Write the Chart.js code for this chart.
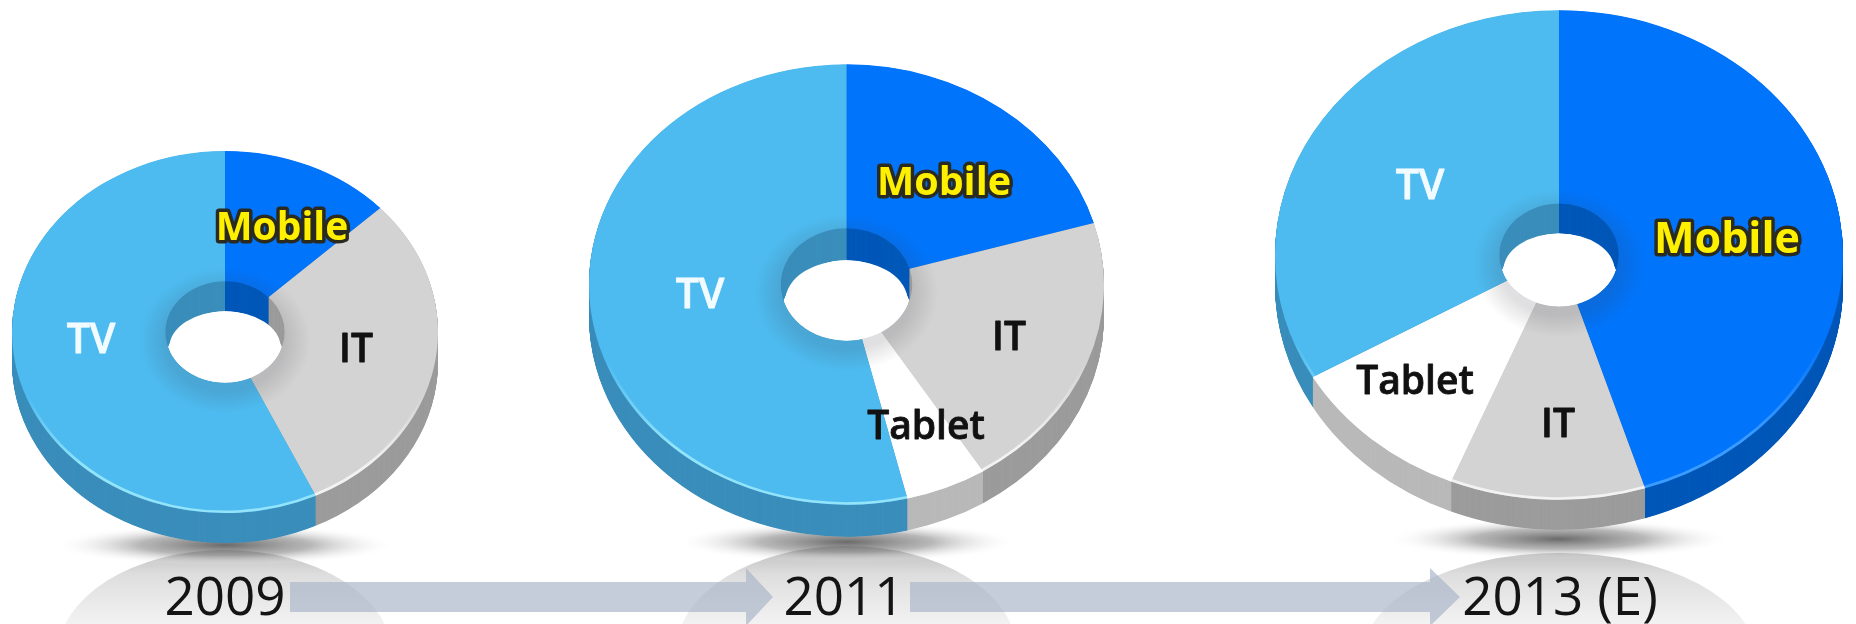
<!DOCTYPE html>
<html>
<head>
<meta charset="utf-8">
<style>
  html, body { margin: 0; padding: 0; background: #fff; overflow: hidden; }
  #stage { position: relative; width: 1856px; height: 624px; overflow: hidden; filter: blur(0.6px); }
  canvas { position: absolute; }
</style>
<script src="https://cdn.jsdelivr.net/npm/chart.js@4"></script>
</head>
<body>
<div id="stage"><canvas id="backdrop" width="1856" height="624" style="left:0;top:0"></canvas></div>
<script>
const categories = ['Mobile', 'IT', 'Tablet', 'TV'];
const years = ['2009', '2011', '2013 (E)'];
const values2009 = [13, 30, 0, 57];
const values2011 = [20.5, 20.6, 5.1, 53.8];
const values2013 = [45.1, 11.1, 10.5, 33.3];

const faceColors = ['#0074FB', '#D3D3D3', '#FFFFFF', '#4DBBF0'];
const sideColors = ['#0058B8', '#9C9C9C', '#B9B9B9', '#3B8EBB'];
const rimColors = ['#3C9BFF', '#F2F2F2', '#FFFFFF', '#93E4FA'];

// geometry of each disc
const pies = [
  { values: values2009, cx: 225, cy: 331.5, rx: 213, squash: 0.85, depth: 30, cutout: '28%',
    labels: { Mobile: [282, 228], IT: [356, 350], TV: [91, 341] }, mobileSize: 39,
    year: [225, 600], shadowY: 545, dome: [167, 655, 105] },
  { values: values2011, cx: 846.5, cy: 284, rx: 257.5, squash: 0.855, depth: 32, cutout: '25.5%',
    labels: { Mobile: [944, 183], IT: [1009, 338], Tablet: [926, 427], TV: [700, 296] }, mobileSize: 39.5,
    year: [844, 600], shadowY: 542, dome: [170, 651, 105] },
  { values: values2013, cx: 1559, cy: 254.5, rx: 284, squash: 0.862, depth: 30, cutout: '21%',
    labels: { Mobile: [1727, 240], IT: [1558, 425], Tablet: [1415, 382], TV: [1420, 187] }, mobileSize: 43,
    year: [1560, 600], shadowY: 539, dome: [197, 658, 105] }
];

const labelFont = "'Open Sans', sans-serif";
const pad = 4;

function drawBackdrop() {
  const ctx = document.getElementById('backdrop').getContext('2d');

  pies.forEach(function (p) {
    // reflection under the disc
    const dome = ctx.createLinearGradient(0, 548, 0, 624);
    dome.addColorStop(0, 'rgba(185,185,185,0.95)');
    dome.addColorStop(0.35, 'rgba(218,218,218,0.9)');
    dome.addColorStop(1, 'rgba(240,240,240,0.85)');
    ctx.fillStyle = dome;
    ctx.beginPath();
    ctx.ellipse(p.cx, p.dome[1], p.dome[0], p.dome[2], 0, 0, Math.PI * 2);
    ctx.fill();

    // ground shadow
    ctx.save();
    ctx.translate(p.cx, p.shadowY);
    ctx.scale(1, 0.12);
    const sh = ctx.createRadialGradient(0, 0, 0, 0, 0, 172);
    sh.addColorStop(0, 'rgba(90,90,90,0.9)');
    sh.addColorStop(0.5, 'rgba(125,125,125,0.55)');
    sh.addColorStop(1, 'rgba(255,255,255,0)');
    ctx.fillStyle = sh;
    ctx.beginPath();
    ctx.arc(0, 0, 172, 0, Math.PI * 2);
    ctx.fill();
    ctx.restore();
  });

  // arrows between the years
  ctx.fillStyle = 'rgba(170,182,200,0.68)';
  [[290, 746, 773], [910, 1430, 1460]].forEach(function (a) {
    ctx.beginPath();
    ctx.moveTo(a[0], 582);
    ctx.lineTo(a[1], 582);
    ctx.lineTo(a[1], 568);
    ctx.lineTo(a[2], 597);
    ctx.lineTo(a[1], 626);
    ctx.lineTo(a[1], 612);
    ctx.lineTo(a[0], 612);
    ctx.closePath();
    ctx.fill();
  });

  ctx.fillStyle = '#141414';
  ctx.font = '53px ' + labelFont;
  ctx.textAlign = 'center';
  ctx.textBaseline = 'middle';
  pies.forEach(function (p, i) {
    ctx.fillText(years[i], p.year[0], p.year[1]);
  });
}

// squashes the doughnut into an ellipse and sweeps it downward for the 3D edge
const tiltPlugin = {
  id: 'tilt',
  beforeDatasetsDraw(chart, args, opts) {
    const ctx = chart.ctx;
    const arcs = chart.getDatasetMeta(0).data;
    const { x, y } = arcs[0];
    ctx.save();
    ctx.translate(x, y);
    ctx.scale(1, opts.squash);
    ctx.translate(-x, -y);
    for (let k = opts.depth; k > 0; k -= 0.5) {
      ctx.save();
      ctx.translate(0, k / opts.squash);
      arcs.forEach(function (arc, i) {
        const saved = arc.options;
        arc.options = Object.create(saved, { backgroundColor: { value: sideColors[i] } });
        arc.draw(ctx);
        arc.options = saved;
      });
      ctx.restore();
    }
  },
  afterDatasetsDraw(chart, args, opts) {
    const ctx = chart.ctx;
    const arcs = chart.getDatasetMeta(0).data;
    const { x, y, innerRadius, outerRadius } = arcs[0];

    // see-through part of the hole, rounder than the plain overlap of the two rims
    const drop = opts.depth / opts.squash / 2;
    ctx.save();
    ctx.beginPath();
    ctx.arc(x, y, innerRadius, 0, Math.PI * 2);
    ctx.clip();
    ctx.fillStyle = '#fff';
    ctx.beginPath();
    ctx.ellipse(x, y + drop, innerRadius * 0.93, innerRadius - drop, 0, 0, Math.PI * 2);
    ctx.fill();
    ctx.restore();

    // soft shade round the hole
    const shade = ctx.createRadialGradient(x, y + 10, innerRadius, x, y + 10, innerRadius + 26);
    shade.addColorStop(0, 'rgba(60,60,70,0.16)');
    shade.addColorStop(1, 'rgba(60,60,70,0)');
    ctx.fillStyle = shade;
    ctx.beginPath();
    ctx.arc(x, y, innerRadius + 40, 0, Math.PI * 2);
    ctx.arc(x, y, innerRadius, 0, Math.PI * 2, true);
    ctx.fill();

    // light line along the front rim
    ctx.lineWidth = 3;
    arcs.forEach(function (arc, i) {
      if (arc.endAngle - arc.startAngle <= 0) return;
      const rim = ctx.createLinearGradient(0, y + outerRadius * 0.35, 0, y + outerRadius);
      rim.addColorStop(0, rimColors[i] + '00');
      rim.addColorStop(0.6, rimColors[i]);
      ctx.strokeStyle = rim;
      ctx.beginPath();
      ctx.arc(x, y, outerRadius - 1.5, arc.startAngle, arc.endAngle);
      ctx.stroke();
    });
    ctx.restore();
  },
  afterDraw(chart, args, opts) {
    const ctx = chart.ctx;
    ctx.save();
    ctx.textAlign = 'center';
    ctx.textBaseline = 'middle';
    ctx.lineJoin = 'round';
    chart.data.labels.forEach(function (name, i) {
      const at = opts.labels[name];
      if (!at || !chart.data.datasets[0].data[i]) return;
      const px = at[0] - opts.left;
      const py = at[1] - opts.top;
      if (name === 'Mobile') {
        ctx.font = 'bold ' + opts.mobileSize + 'px ' + labelFont;
        ctx.lineWidth = 7;
        ctx.strokeStyle = '#2a2a20';
        ctx.fillStyle = '#FFF000';
      } else if (name === 'TV') {
        ctx.font = '600 41px ' + labelFont;
        ctx.lineWidth = 0.8;
        ctx.strokeStyle = ctx.fillStyle = '#F2FBFF';
      } else {
        ctx.font = '600 39px ' + labelFont;
        ctx.lineWidth = 0.8;
        ctx.strokeStyle = ctx.fillStyle = '#111111';
      }
      ctx.strokeText(name, px, py);
      ctx.fillText(name, px, py);
    });
    ctx.restore();
  }
};

drawBackdrop();

pies.forEach(function (p) {
  const size = p.rx * 2 + pad * 2;
  const left = p.cx - p.rx - pad;
  const top = p.cy - p.rx - pad;
  const canvas = document.createElement('canvas');
  canvas.style.left = left + 'px';
  canvas.style.top = top + 'px';
  canvas.style.width = size + 'px';
  canvas.style.height = size + 'px';
  canvas.width = size;
  canvas.height = size;
  document.getElementById('stage').appendChild(canvas);

  new Chart(canvas.getContext('2d'), {
    type: 'doughnut',
    data: {
      labels: categories,
      datasets: [{
        data: p.values,
        backgroundColor: faceColors,
        borderWidth: 0
      }]
    },
    plugins: [tiltPlugin],
    options: {
      responsive: false,
      animation: false,
      events: [],
      cutout: p.cutout,
      layout: { padding: pad },
      plugins: {
        legend: { display: false },
        tooltip: { enabled: false },
        tilt: { squash: p.squash, depth: p.depth, labels: p.labels, mobileSize: p.mobileSize, left: left, top: top }
      }
    }
  });
});
</script>
</body>
</html>
